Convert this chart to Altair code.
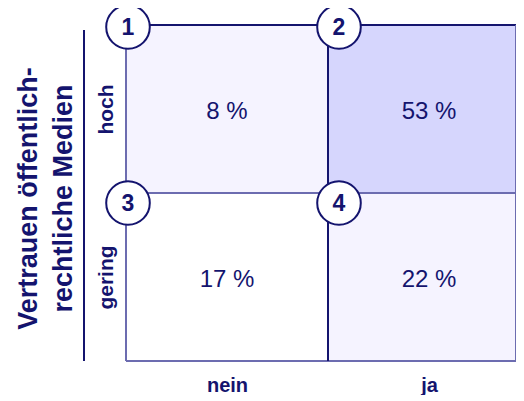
import altair as alt
import pandas as pd

# ---- data ----
cols = ["nein", "ja"]              # x categories, left to right
rows = ["gering", "hoch"]          # y categories, bottom to top
cell_col = ["nein", "ja", "nein", "ja"]
cell_row = ["hoch", "hoch", "gering", "gering"]
cell_num = ["1", "2", "3", "4"]
cell_pct = [8, 53, 17, 22]
y_title = ["Vertrauen öffentlich-", "rechtliche Medien"]

# ---- styles ----
cell_fill = ["#f5f3ff", "#d6d6fd", "#ffffff", "#f5f3ff"]
navy = "#14146e"
light_line = "#6c6cb0"
FONT = "Liberation Sans"
PX_X = 202.0   # pixels per column
PX_Y = 168.0   # pixels per row
W = 390
H = 336

ci = {c: i for i, c in enumerate(cols)}
ri = {r: i for i, r in enumerate(rows)}

df = pd.DataFrame({"col": cell_col, "row": cell_row, "num": cell_num, "pct": cell_pct})
df["ci"] = df["col"].map(ci)
df["ri"] = df["row"].map(ri)
df["x0"] = df["ci"]
df["x1"] = df["ci"] + 1
df["y0"] = df["ri"]
df["y1"] = df["ri"] + 1
df["xc"] = df["ci"] + 0.5
df["yc"] = df["ri"] + 0.5
df["label"] = df["pct"].astype(str) + " %"
# circle badges sit at the top-left corner of each cell
df["bx"] = df["ci"] + df["ci"].map({0: 2.0, 1: 11.0}) / PX_X
df["by"] = df["ri"] + 1 - df["ri"].map({1: 2.0, 0: 10.0}) / PX_Y

# grid lines
n_c, n_r = len(cols), len(rows)
lines = []
for r in range(n_r + 1):
    lines.append({"x": 0, "x2": n_c, "y": r, "y2": r, "kind": "dark" if r == n_r else "light"})
for c in range(n_c + 1):
    lines.append({"x": c, "x2": c, "y": 0, "y2": n_r, "kind": "dark" if 0 < c < n_c else "light"})
ldf = pd.DataFrame(lines)

xs = alt.Scale(domain=[0, W / PX_X], nice=False, zero=False, clamp=True)
ys = alt.Scale(domain=[0, n_r], nice=False, zero=False)

x_label_expr = " : ".join(
    [f"datum.value < {i + 1} ? '{c}'" for i, c in enumerate(cols[:-1])] + [f"'{cols[-1]}'"]
)
y_label_expr = " : ".join(
    [f"datum.value < {i + 1} ? '{r}'" for i, r in enumerate(rows[:-1])] + [f"'{rows[-1]}'"]
)

x_axis = alt.Axis(
    values=[i + 0.5 for i in range(n_c)], labelExpr=x_label_expr, title=None,
    domain=False, ticks=False, tickSize=0, grid=False, labelPadding=14,
    labelFont=FONT, labelFontSize=20, labelFontWeight="bold", labelColor=navy,
    labelAngle=0, labelAlign="center", labelBaseline="top",
)
y_axis = alt.Axis(
    values=[i + 0.5 for i in range(n_r)], labelExpr=y_label_expr, title=y_title,
    domain=False, ticks=False, tickSize=0, grid=False, labelPadding=10,
    labelFont=FONT, labelFontSize=21, labelFontWeight="bold", labelColor=navy,
    labelAngle=-90, labelAlign="center", labelBaseline="bottom",
    titleFont=FONT, titleFontSize=27, titleFontWeight="bold", titleColor=navy,
    titleLineHeight=35, titleX=-98, titleY=173, titleAlign="center",
    titleBaseline="middle", titleAngle=-90,
)

base = alt.Chart(df)

cells = base.mark_rect(clip=True).encode(
    x=alt.X("x0:Q", scale=xs, axis=x_axis),
    x2="x1:Q",
    y=alt.Y("y0:Q", scale=ys, axis=y_axis),
    y2="y1:Q",
    fill=alt.Fill("num:N", scale=alt.Scale(domain=cell_num, range=cell_fill), legend=None),
)

grid = alt.Chart(ldf).mark_rule(strokeWidth=2).encode(
    x=alt.X("x:Q", scale=xs, axis=x_axis),
    x2="x2:Q",
    y=alt.Y("y:Q", scale=ys, axis=y_axis),
    y2="y2:Q",
    color=alt.Color("kind:N", scale=alt.Scale(domain=["dark", "light"], range=[navy, light_line]), legend=None),
)

pct = base.mark_text(font=FONT, fontSize=24, color=navy, dy=3).encode(
    x=alt.X("xc:Q", scale=xs, axis=x_axis),
    y=alt.Y("yc:Q", scale=ys, axis=y_axis),
    text="label:N",
)

badges = base.mark_point(shape="circle", filled=True, fill="white", stroke=navy,
                         strokeWidth=2, size=1900, opacity=1).encode(
    x=alt.X("bx:Q", scale=xs, axis=x_axis),
    y=alt.Y("by:Q", scale=ys, axis=y_axis),
)

badge_txt = base.mark_text(font=FONT, fontSize=23, fontWeight="bold", color=navy,
                           baseline="middle", dy=1).encode(
    x=alt.X("bx:Q", scale=xs, axis=x_axis),
    y=alt.Y("by:Q", scale=ys, axis=y_axis),
    text="num:N",
)

bracket = alt.Chart(pd.DataFrame({"y": [0], "y2": [n_r]})).mark_rule(
    color=navy, strokeWidth=2, y2Offset=5
).encode(
    x=alt.value(-42),
    y=alt.Y("y:Q", scale=ys, axis=y_axis),
    y2="y2:Q",
)

chart = alt.layer(cells, grid, bracket, pct, badges, badge_txt).properties(
    width=W, height=H,
    autosize=alt.AutoSizeParams(type="none"),
    padding={"left": 118, "top": 17, "right": 0, "bottom": 34},
).configure_view(stroke=None).configure(background="white")

chart.save("out.html", embed_options={"renderer": "svg", "actions": False})
